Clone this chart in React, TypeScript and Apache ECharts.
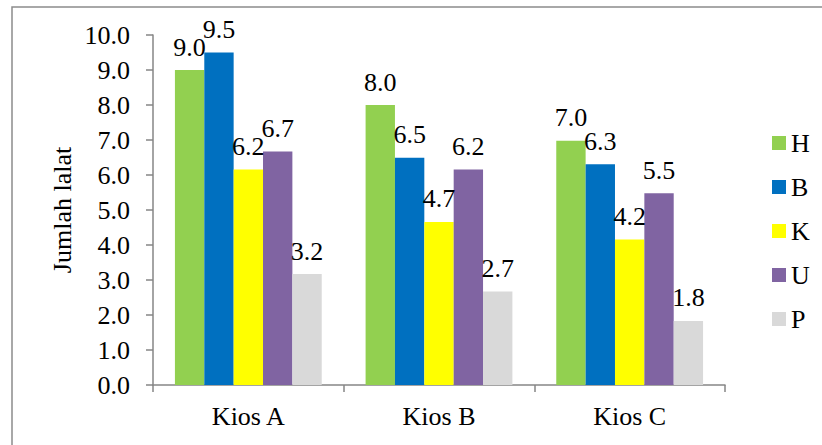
import React, { useEffect, useRef } from "react";
import * as echarts from "echarts";

const categories = ["Kios A", "Kios B", "Kios C"];
const seriesNames = ["H", "B", "K", "U", "P"];
const valuesH = [9.0, 8.0, 6.98];
const valuesB = [9.5, 6.49, 6.31];
const valuesK = [6.16, 4.66, 4.16];
const valuesU = [6.67, 6.16, 5.48];
const valuesP = [3.17, 2.67, 1.83];
const colors = ["#92D050", "#0070C0", "#FFFF00", "#8064A2", "#D9D9D9"];
const yTitle = "Jumlah lalat";

const FONT = "'Liberation Serif', 'Times New Roman', serif";

export default function App() {
  const ref = useRef<HTMLDivElement>(null);
  useEffect(() => {
    if (!ref.current) return;
    const chart = echarts.init(ref.current, undefined, { renderer: "svg" });
    const all = [valuesH, valuesB, valuesK, valuesU, valuesP];
    chart.setOption({
      animation: false,
      backgroundColor: "#ffffff",
      textStyle: { fontFamily: FONT },
      grid: { left: 153, right: 97, top: 35, bottom: 60, containLabel: false },
      legend: {
        orient: "vertical",
        left: 767,
        top: 125,
        itemWidth: 14,
        itemHeight: 14,
        itemGap: 18,
        icon: "rect",
        data: seriesNames,
        textStyle: { fontFamily: FONT, fontSize: 26, color: "#000", lineHeight: 26 },
      },
      graphic: [
        {
          type: "rect",
          shape: { x: 12, y: 7, width: 900, height: 600 },
          style: { fill: "none", stroke: "#8c8c8c", lineWidth: 1.5 },
          silent: true,
        },
        {
          type: "text",
          x: 62,
          y: 210,
          rotation: Math.PI / 2,
          style: {
            text: yTitle,
            fontFamily: FONT,
            fontSize: 26,
            fill: "#000",
            textAlign: "center",
            textVerticalAlign: "middle",
          },
        },
      ],
      xAxis: {
        type: "category",
        data: categories,
        axisLine: { lineStyle: { color: "#868686", width: 1.5 } },
        axisTick: { show: true, length: 7, alignWithLabel: false, lineStyle: { color: "#868686", width: 1.5 } },
        axisLabel: { fontFamily: FONT, fontSize: 26, color: "#000", margin: 18 },
      },
      yAxis: {
        type: "value",
        min: 0,
        max: 10,
        interval: 1,
        splitLine: { show: false },
        axisLine: { show: true, lineStyle: { color: "#868686", width: 1.5 } },
        axisTick: { show: true, length: 7, lineStyle: { color: "#868686", width: 1.5 } },
        axisLabel: {
          fontFamily: FONT,
          fontSize: 26,
          color: "#000",
          margin: 23,
          formatter: (v: number) => v.toFixed(1),
        },
      },
      series: seriesNames.map((name, i) => ({
        name,
        type: "bar",
        data: all[i],
        barGap: "0%",
        barCategoryGap: "23%",
        itemStyle: { color: colors[i] },
        label: {
          show: true,
          position: "top",
          distance: 10,
          fontFamily: FONT,
          fontSize: 26,
          color: "#000",
          formatter: (p: any) => Number(p.value).toFixed(1),
        },
      })),
    });
    return () => chart.dispose();
  }, []);
  return (
    <div
      ref={ref}
      style={{ position: "fixed", left: 0, top: 0, width: 822, height: 445 }}
    />
  );
}
